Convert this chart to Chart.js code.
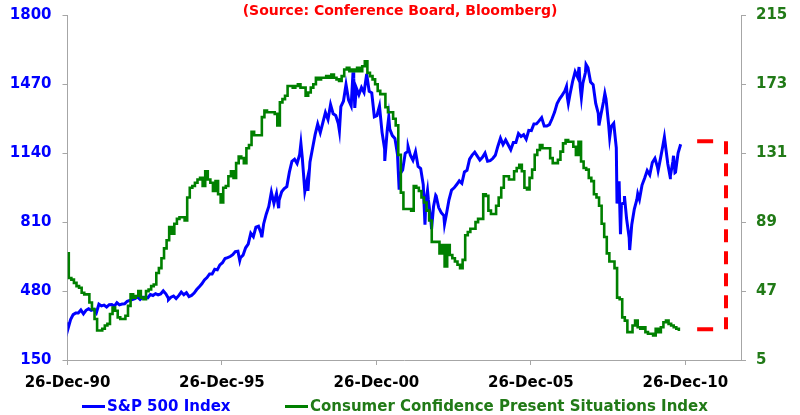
<!DOCTYPE html>
<html>
<head>
<meta charset="utf-8">
<script src="https://cdn.jsdelivr.net/npm/chart.js@4.4.1/dist/chart.umd.min.js"></script>
<style>
  body { margin: 0; background: #fff; }
  #wrap { position: relative; width: 800px; height: 415px; }
  #legend { position: absolute; left: 0; top: 398px; width: 800px; height: 17px;
            font: bold 15px "DejaVu Sans", sans-serif; }
  #legend .item { position: absolute; top: 0; white-space: nowrap; line-height: 17px; }
  #legend .swatch { display: inline-block; width: 23px; height: 3px; vertical-align: middle; margin-right: 2px; }
</style>
</head>
<body>
<div id="wrap">
  <canvas id="chart" width="800" height="415"></canvas>
  <div id="legend"></div>
</div>
<script>
// S&P 500 vs Conference Board Present Situations index, Dec-1990 .. Oct-2010

const TITLE = "(Source: Conference Board, Bloomberg)";
const SP_LABEL = "S&P 500 Index";
const CC_LABEL = "Consumer Confidence Present Situations Index";

// x axis: date labels every 5 years
const tickDates = ["1990-12-26", "1995-12-26", "2000-12-26", "2005-12-26", "2010-12-26"];
const tickLabels = ["26-Dec-90", "26-Dec-95", "26-Dec-00", "26-Dec-05", "26-Dec-10"];
const axisStart = "1990-12-26", axisEnd = "2012-10-15";

// left axis (S&P) and right axis (confidence)
const leftTicks = [150, 480, 810, 1140, 1470, 1800];
const rightTicks = [5, 47, 89, 131, 173, 215];

// S&P 500 month-end closes, Dec-1990 then Jan-1991 .. Oct-2010
const spClose = [
  330.22,
  343.93, 367.07, 375.22, 375.34, 389.83, 371.16, 387.81, 395.43, 387.86, 392.46, 375.22, 417.09,       // 1991
  408.79, 412.70, 403.69, 414.95, 415.35, 408.14, 424.21, 414.03, 417.80, 418.68, 431.35, 435.71,       // 1992
  438.78, 443.38, 451.67, 440.19, 450.19, 450.53, 448.13, 463.56, 458.93, 467.83, 461.79, 466.45,       // 1993
  481.61, 467.14, 445.77, 450.91, 456.50, 444.27, 458.26, 475.49, 462.69, 472.35, 453.69, 459.27,       // 1994
  470.42, 487.39, 500.71, 514.71, 533.40, 544.75, 562.06, 561.88, 584.41, 581.50, 605.37, 615.93,       // 1995
  636.02, 640.43, 645.50, 654.17, 669.12, 670.63, 639.95, 651.99, 687.31, 705.27, 757.02, 740.74,       // 1996
  786.16, 790.82, 757.12, 801.34, 848.28, 885.14, 954.29, 899.47, 947.28, 914.62, 955.40, 970.43,       // 1997
  980.28, 1049.34, 1101.75, 1111.75, 1090.82, 1133.84, 1120.67, 957.28, 1017.01, 1098.67, 1163.63, 1229.23, // 1998
  1279.64, 1238.33, 1286.37, 1335.18, 1301.84, 1372.71, 1328.72, 1320.41, 1282.71, 1362.93, 1388.91, 1469.25, // 1999
  1394.46, 1366.42, 1498.58, 1452.43, 1420.60, 1454.60, 1430.83, 1517.68, 1436.51, 1429.40, 1314.95, 1320.28, // 2000
  1366.01, 1239.94, 1160.33, 1249.46, 1255.82, 1224.42, 1211.23, 1133.58, 1040.94, 1059.78, 1139.45, 1148.08, // 2001
  1130.20, 1106.73, 1147.39, 1076.92, 1067.14, 989.82, 911.62, 916.07, 815.28, 885.76, 936.31, 879.82,  // 2002
  855.70, 841.15, 848.18, 916.92, 963.59, 974.50, 990.31, 1008.01, 995.97, 1050.71, 1058.20, 1111.92,   // 2003
  1131.13, 1144.94, 1126.21, 1107.30, 1120.68, 1140.84, 1101.72, 1104.24, 1114.58, 1130.20, 1173.82, 1211.92, // 2004
  1181.27, 1203.60, 1180.59, 1156.85, 1191.50, 1191.33, 1234.18, 1220.33, 1228.81, 1207.01, 1249.48, 1248.29, // 2005
  1280.08, 1280.66, 1294.83, 1310.61, 1270.09, 1270.20, 1276.66, 1303.82, 1335.85, 1377.94, 1400.63, 1418.30, // 2006
  1438.24, 1406.82, 1420.86, 1482.37, 1530.62, 1503.35, 1455.27, 1473.99, 1526.75, 1549.38, 1481.14, 1468.36, // 2007
  1378.55, 1330.63, 1322.70, 1385.59, 1400.38, 1280.00, 1267.38, 1282.83, 1166.36, 968.75, 896.24, 903.25,   // 2008
  825.88, 735.09, 797.87, 872.81, 919.14, 919.32, 987.48, 1020.62, 1057.08, 1036.19, 1095.63, 1115.10,   // 2009
  1073.87, 1104.49, 1169.43, 1186.69, 1089.41, 1030.71, 1101.60, 1049.33, 1141.20, 1183.26              // 2010
];

// intra-month highs/lows that show up as spikes in the daily line
const spSwings = [
  ["1991-01-09", 311.5], ["1994-04-04", 438.9], ["1996-07-24", 626.6], ["1997-04-11", 737.6],
  ["1997-10-27", 877.0], ["1998-07-17", 1186.8], ["1998-10-08", 959.4], ["1999-10-15", 1247.4],
  ["2000-03-24", 1527.5], ["2000-04-14", 1356.6], ["2000-09-01", 1520.8], ["2001-04-04", 1103.3],
  ["2001-05-21", 1312.8], ["2001-09-21", 965.8], ["2002-01-04", 1172.5], ["2002-07-23", 797.7],
  ["2002-08-22", 962.7], ["2002-10-09", 776.8], ["2002-11-27", 938.9], ["2003-03-11", 800.7],
  ["2007-02-20", 1459.7], ["2007-03-14", 1377.9], ["2007-07-19", 1553.1], ["2007-08-15", 1406.7],
  ["2007-10-09", 1565.2], ["2008-03-10", 1273.4], ["2008-05-19", 1426.6], ["2008-07-15", 1214.9],
  ["2008-10-10", 899.2], ["2008-11-04", 1005.8], ["2008-11-20", 752.4], ["2009-01-06", 934.7],
  ["2009-03-09", 676.5], ["2009-06-12", 946.2], ["2010-02-08", 1056.7], ["2010-04-23", 1217.3],
  ["2010-07-02", 1022.6], ["2010-08-09", 1127.8], ["2010-08-26", 1047.2]
];

// Present Situations index, monthly from Dec-1990
const ccValues = [
  70,
  55, 54, 52, 50, 49, 46, 45, 45, 40, 36, 30, 23,               // 1991
  23, 24, 26, 27, 33, 37, 35, 31, 30, 30, 32, 38,               // 1992
  45, 43, 44, 47, 43, 42, 47, 48, 50, 51, 58, 61,               // 1993
  67, 73, 78, 86, 82, 88, 91, 92, 92, 90, 104, 110,             // 1994
  111, 113, 115, 116, 111, 120, 115, 113, 108, 114, 106, 101,   // 1995
  110, 111, 117, 120, 116, 125, 129, 128, 125, 134, 136, 144,   // 1996
  142, 142, 142, 153, 157, 156, 156, 156, 155, 148, 162, 164,   // 1997
  166, 172, 172, 171, 172, 173, 171, 171, 166, 168, 171, 173,   // 1998
  177, 176, 177, 177, 178, 177, 179, 177, 176, 175, 178, 182,   // 1999
  183, 181, 182, 181, 183, 181, 184, 187, 180, 178, 176, 173,   // 2000
  169, 167, 167, 159, 156, 156, 152, 148, 130, 107, 97, 97,     // 2001
  97, 96, 111, 110, 108, 104, 101, 96, 90, 77, 77, 77,          // 2002
  70, 75, 62, 75, 69, 67, 65, 63, 61, 66, 81, 83,               // 2003
  85, 85, 89, 91, 91, 106, 105, 96, 94, 94, 99, 104,            // 2004
  110, 117, 117, 115, 115, 120, 122, 124, 120, 110, 109, 116,   // 2005
  121, 130, 133, 136, 134, 134, 134, 128, 125, 125, 127, 132,   // 2006
  137, 139, 138, 138, 135, 130, 138, 126, 122, 121, 116, 114,   // 2007
  106, 104, 99, 88, 80, 70, 65, 65, 61, 43, 42, 31,             // 2008
  29, 22, 22, 26, 29, 25, 24, 25, 22, 21, 21, 20,               // 2009
  24, 22, 25, 28, 29, 27, 26, 25, 24, 23.5                      // 2010
];

// red dashed bracket on the right: from S&P level down to confidence level
const bracketTop = 1197;      // left axis units
const bracketBottom = 23.7;   // right axis units
const bracketDates = ["2011-05-15", "2011-11-20", "2012-04-20"]; // arm start, arm end, upright

const FONT = '"DejaVu Sans", sans-serif';
const BLUE = "#0000ff", GREEN = "#008000", GREEN_TXT = "#217a17", RED = "#ff0000", AXIS = "#a6a6a6";

function toYear(s) {
  const d = new Date(s + "T00:00:00Z"), y = d.getUTCFullYear();
  return y + (d - Date.UTC(y, 0, 1)) / (Date.UTC(y + 1, 0, 1) - Date.UTC(y, 0, 1));
}

const X0 = toYear(axisStart);
const spData = spClose.map((v, i) => ({ x: 1991 + i / 12, y: v }))
  .concat(spSwings.map(([d, v]) => ({ x: toYear(d), y: v })))
  .sort((a, b) => a.x - b.x);
const ccData = ccValues.map((v, m) => ({ x: X0 + m / 12, y: v }));

// right-axis value expressed on the left axis (for the upright of the bracket)
const rightToLeft = v => leftTicks[0] + (v - rightTicks[0]) *
  (leftTicks[leftTicks.length - 1] - leftTicks[0]) / (rightTicks[rightTicks.length - 1] - rightTicks[0]);

const [bA, bB, bV] = bracketDates.map(toYear);
const bracketStyle = { borderColor: RED, borderWidth: 4, pointRadius: 0, borderCapStyle: "butt", order: 0, bracket: true };

const tickFont = { family: FONT, size: 15, weight: "bold" };

// fixed axis boxes so the plot area lands where the original has it
const fixWidth = w => s => { s.width = w; s.paddingTop = 0; s.paddingBottom = 0; };

const chart = new Chart(document.getElementById("chart"), {
  type: "line",
  data: {
    datasets: [
      { label: SP_LABEL, data: spData, yAxisID: "yL", borderColor: BLUE, borderWidth: 3,
        pointRadius: 0, order: 2 },
      { label: CC_LABEL, data: ccData, yAxisID: "yR", borderColor: GREEN, borderWidth: 2.6,
        pointRadius: 0, stepped: "middle", order: 1 },
      { ...bracketStyle, label: "", yAxisID: "yL", data: [{ x: bA, y: bracketTop }, { x: bB, y: bracketTop }] },
      { ...bracketStyle, label: "", yAxisID: "yR", data: [{ x: bA, y: bracketBottom }, { x: bB, y: bracketBottom }] },
      { ...bracketStyle, label: "", yAxisID: "yL", borderDash: [13, 9],
        data: [{ x: bV, y: bracketTop }, { x: bV, y: rightToLeft(bracketBottom) }] },
    ],
  },
  options: {
    responsive: false, animation: false, devicePixelRatio: 1,
    layout: { padding: 0 },
    plugins: {
      legend: { display: false },
      tooltip: { enabled: false },
      title: {
        display: true, text: TITLE, color: RED,
        font: { family: FONT, size: 14, weight: "bold", lineHeight: 0.6 },
        padding: { top: 7, bottom: 0 },
      },
    },
    scales: {
      x: {
        type: "linear", min: X0, max: toYear(axisEnd),
        afterBuildTicks: s => { s.ticks = tickDates.map(d => ({ value: toYear(d) })); },
        afterFit: s => { s.height = 55; s.paddingLeft = 0; s.paddingRight = 0; },
        ticks: { callback: (v, i) => tickLabels[i], color: "#000", font: tickFont, padding: 9,
                 maxRotation: 0, autoSkip: false },
        grid: { drawOnChartArea: false, tickLength: 5, color: AXIS },
        border: { color: AXIS },
      },
      yL: {
        position: "left", min: leftTicks[0], max: leftTicks[leftTicks.length - 1],
        afterBuildTicks: s => { s.ticks = leftTicks.map(v => ({ value: v })); },
        afterFit: fixWidth(67.5),
        ticks: { color: BLUE, font: tickFont, padding: 11, callback: v => String(v) },
        grid: { drawOnChartArea: false, tickLength: 5, color: AXIS },
        border: { color: AXIS },
      },
      yR: {
        position: "right", min: rightTicks[0], max: rightTicks[rightTicks.length - 1],
        afterBuildTicks: s => { s.ticks = rightTicks.map(v => ({ value: v })); },
        afterFit: fixWidth(59),
        ticks: { color: GREEN_TXT, font: tickFont, padding: 10, callback: v => String(v) },
        grid: { drawOnChartArea: false, tickLength: 5, color: AXIS },
        border: { color: AXIS },
      },
    },
  },
});

// HTML legend built from the two data series
const legendLeft = [82, 285];
const legendText = [BLUE, GREEN_TXT];
const legend = document.getElementById("legend");
chart.data.datasets.filter(ds => !ds.bracket).forEach((ds, i) => {
  const item = document.createElement("span");
  item.className = "item";
  item.style.left = legendLeft[i] + "px";
  item.style.color = legendText[i];
  item.innerHTML = `<span class="swatch" style="background:${ds.borderColor}"></span>`;
  item.appendChild(document.createTextNode(ds.label));
  legend.appendChild(item);
});
</script>
</body>
</html>
